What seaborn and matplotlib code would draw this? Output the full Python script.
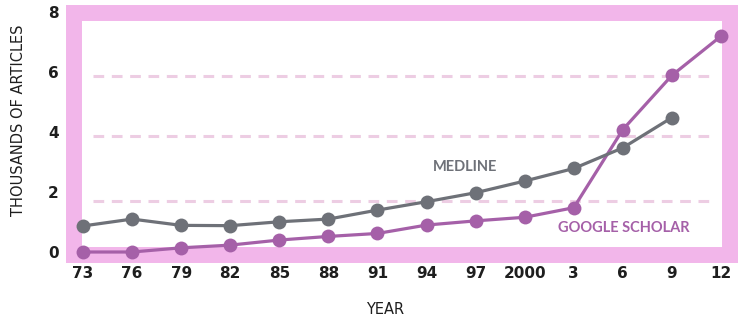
import matplotlib
matplotlib.use('Agg')
import matplotlib.pyplot as plt
from matplotlib import font_manager
import seaborn as sns
import pandas as pd

# Data (thousands of articles)
years = [1973, 1976, 1979, 1982, 1985, 1988, 1991, 1994, 1997, 2000, 2003, 2006, 2009, 2012]
year_labels = ['73', '76', '79', '82', '85', '88', '91', '94', '97', '2000', '3', '6', '9', '12']
medline = [0.87, 1.1, 0.89, 0.88, 1.01, 1.1, 1.4, 1.68, 1.98, 2.37, 2.79, 3.48, 4.49, None]
scholar = [0.0, 0.0, 0.14, 0.23, 0.4, 0.52, 0.62, 0.9, 1.04, 1.16, 1.48, 4.09, 5.9, 7.21]
grid_levels = [1.72, 3.87, 5.87]
y_ticks = [0, 2, 4, 6, 8]

pink = '#F2B6EA'
grid_pink = '#EDCDE3'
grey = '#6E7178'
purple = '#A560A8'
dark = '#1E1E1E'

df = pd.DataFrame({'year': years, 'MEDLINE': medline, 'GOOGLE SCHOLAR': scholar})
long_df = df.melt(id_vars='year', var_name='source', value_name='articles').dropna()

sns.set_style('white')
plt.rcParams['font.family'] = ['Lato', 'DejaVu Sans']

# condensed face for the axis titles
cond = None
for f in font_manager.fontManager.ttflist:
    if f.fname.endswith('DejaVuSansCondensed.ttf'):
        cond = f.fname
        break
if cond:
    title_font = font_manager.FontProperties(fname=cond, size=11.7)
else:
    title_font = font_manager.FontProperties(family='Liberation Sans', size=11)

fig = plt.figure(figsize=(7.38, 3.2), dpi=100)
ax = fig.add_axes([74 / 738, 65 / 320, 656 / 738, 242.5 / 320])

for lvl in grid_levels:
    ax.plot([1973.6, 2011.4], [lvl, lvl], color=grid_pink, lw=2.2, ls=(0, (3.5, 2.5)), zorder=1)

sns.lineplot(data=long_df, x='year', y='articles', hue='source',
             palette={'MEDLINE': grey, 'GOOGLE SCHOLAR': purple},
             hue_order=['GOOGLE SCHOLAR', 'MEDLINE'],
             marker='o', markersize=10, markeredgewidth=0, linewidth=2.3,
             legend=False, ax=ax, zorder=3, clip_on=False)

ax.set_xlim(1972.45, 2012.55)
ax.set_ylim(-0.1, 8.0)
ax.set_xticks(years)
ax.set_xticklabels(year_labels)
ax.set_yticks(y_ticks)
ax.tick_params(length=0, labelsize=11, colors=dark)
ax.tick_params(axis='x', pad=8)
ax.tick_params(axis='y', pad=11)
for lab in ax.get_xticklabels() + ax.get_yticklabels():
    lab.set_fontweight('bold')
    lab.set_family('DejaVu Sans')

# thick pink frame
for s in ax.spines.values():
    s.set_visible(True)
    s.set_color(pink)
    s.set_linewidth(11.5)
    s.set_zorder(2.5)

ax.set_xlabel('YEAR', fontproperties=title_font, color=dark)
ax.set_ylabel('THOUSANDS OF ARTICLES', fontproperties=title_font, color=dark)
ax.xaxis.set_label_coords(0.474, -0.195)
ax.yaxis.set_label_coords(-0.073, 0.555)

ax.text(0.596, 0.363, 'MEDLINE', transform=ax.transAxes, ha='center', va='center',
        fontsize=10.5, fontweight='bold', color=grey)
ax.text(0.838, 0.111, 'GOOGLE SCHOLAR', transform=ax.transAxes, ha='center', va='center',
        fontsize=10.5, fontweight='bold', color=purple)

fig.savefig('out.png', dpi=100)
